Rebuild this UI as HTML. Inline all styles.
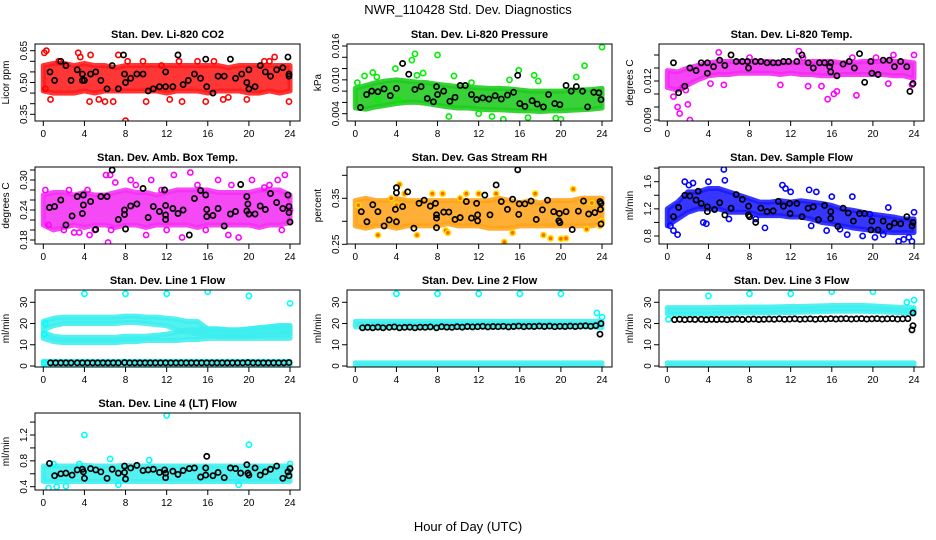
<!DOCTYPE html>
<html><head><meta charset="utf-8"><title>NWR_110428 Std. Dev. Diagnostics</title>
<style>
html,body{margin:0;padding:0;background:#fff;}
svg{display:block;font-family:"Liberation Sans",Arial,sans-serif;}
</style></head>
<body>
<svg id="chart" width="936" height="540" viewBox="0 0 936 540" xmlns="http://www.w3.org/2000/svg">
<rect x="0" y="0" width="936" height="540" fill="#fff"/>
<text x="468" y="14" font-size="13" text-anchor="middle">NWR_110428  Std. Dev. Diagnostics</text>
<text x="468" y="531" font-size="13" text-anchor="middle">Hour of Day (UTC)</text>
</svg>
<script>
const bandHours=[0,1,2,3,4,5,6,7,8,9,10,11,12,13,14,15,16,17,18,19,20,21,22,23,24];
const xTicks=[0,4,8,12,16,20,24];

// Panel 1: CO2
const p1Lo=[0.46,0.45,0.45,0.45,0.46,0.45,0.46,0.46,0.46,0.46,0.46,0.46,0.45,0.46,0.46,0.46,0.45,0.46,0.46,0.46,0.45,0.45,0.46,0.45,0.46];
const p1Hi=[0.58,0.59,0.59,0.58,0.59,0.58,0.58,0.57,0.58,0.58,0.58,0.58,0.58,0.58,0.58,0.58,0.58,0.58,0.57,0.58,0.58,0.58,0.58,0.58,0.58];
const p1Out=[[0.1,0.64],[0.3,0.65],[0.2,0.47],[0.7,0.42],[1.5,0.6],[3.4,0.64],[3.6,0.62],[4.5,0.41],[4.6,0.63],[6.0,0.41],[6.8,0.41],[7.3,0.63],[8.0,0.32],[8.2,0.60],[9.7,0.60],[10.0,0.41],[11.5,0.58],[13.2,0.60],[13.5,0.41],[15.0,0.60],[15.8,0.41],[16.6,0.60],[17.5,0.42],[18.0,0.43],[19.8,0.42],[21.5,0.60],[22.5,0.62],[22.0,0.60],[23.9,0.41],[2.2,0.58],[5.4,0.42],[12.3,0.42]];
const p1Black=[[0.65,0.55],[1.1,0.51],[1.7,0.60],[2.2,0.58],[2.7,0.51],[3.3,0.56],[3.8,0.54],[3.8,0.51],[4.0,0.51],[4.6,0.54],[5.1,0.55],[5.6,0.51],[6.2,0.47],[6.7,0.58],[7.3,0.47],[7.8,0.63],[7.9,0.54],[8.0,0.50],[8.5,0.52],[9.1,0.54],[9.7,0.54],[10.2,0.46],[10.7,0.47],[11.3,0.48],[11.9,0.48],[11.9,0.55],[12.6,0.48],[13.1,0.63],[13.6,0.49],[14.1,0.51],[14.7,0.54],[15.3,0.52],[15.8,0.61],[15.9,0.48],[16.5,0.45],[17.0,0.53],[17.6,0.53],[18.2,0.61],[18.7,0.52],[19.3,0.54],[19.8,0.50],[20.0,0.47],[20.0,0.56],[20.6,0.48],[21.1,0.58],[21.6,0.55],[22.1,0.53],[22.7,0.56],[23.3,0.57],[23.8,0.62],[23.9,0.54],[23.9,0.53]];
const p1YTicks=[0.35,0.40,0.45,0.50,0.55,0.60,0.65];
const p1YLabels=["0.35","","","0.50","","","0.65"];

// Panel 2: Pressure
const p2Lo=[0.0050,0.0048,0.0052,0.0055,0.0058,0.0060,0.0060,0.0058,0.0055,0.0052,0.0050,0.0050,0.0048,0.0047,0.0047,0.0046,0.0045,0.0045,0.0044,0.0045,0.0045,0.0046,0.0047,0.0048,0.0050];
const p2Hi=[0.0085,0.0090,0.0095,0.0098,0.0100,0.0098,0.0096,0.0095,0.0092,0.0090,0.0088,0.0087,0.0086,0.0085,0.0085,0.0084,0.0082,0.0080,0.0080,0.0080,0.0080,0.0082,0.0082,0.0083,0.0085];
const p2Out=[[0.2,0.0095],[0.9,0.0107],[1.7,0.0113],[2.1,0.0105],[3.9,0.0120],[4.2,0.0064],[5.5,0.0135],[5.8,0.0146],[6.0,0.0108],[6.6,0.0112],[8.0,0.0144],[9.1,0.0035],[9.6,0.0107],[11.3,0.0095],[13.3,0.0035],[14.4,0.0030],[15.0,0.0100],[15.9,0.0117],[16.8,0.0033],[17.4,0.0108],[17.8,0.0098],[19.5,0.0032],[20.0,0.0030],[21.5,0.0105],[22.3,0.0125],[24.0,0.0158],[2.2,0.0065],[12.0,0.0040]];
const p2Black=[[0.5,0.0051],[1.1,0.0074],[1.6,0.0080],[2.2,0.0079],[2.8,0.0084],[3.4,0.0072],[4.0,0.0085],[4.6,0.0129],[5.2,0.0110],[5.8,0.0083],[6.4,0.0088],[7.0,0.0067],[7.6,0.0061],[7.9,0.0088],[8.0,0.0074],[8.6,0.0080],[9.2,0.0062],[9.7,0.0069],[10.2,0.0090],[10.7,0.0090],[11.3,0.0074],[11.8,0.0065],[12.4,0.0068],[13.0,0.0066],[13.6,0.0072],[14.2,0.0066],[14.8,0.0073],[15.4,0.0078],[15.8,0.0108],[16.0,0.0058],[16.5,0.0053],[17.2,0.0063],[17.7,0.0057],[18.3,0.0052],[18.8,0.0074],[19.4,0.0058],[19.9,0.0056],[20.5,0.0090],[21.0,0.0080],[21.5,0.0088],[22.1,0.0080],[22.6,0.0052],[23.2,0.0078],[23.7,0.0077],[23.9,0.0065]];
const p2YTicks=[0.004,0.006,0.008,0.010,0.012,0.014,0.016];
const p2YLabels=["0.004","","","0.010","","","0.016"];

// Panel 3: Li-820 Temp
const p3Lo=[0.0115,0.0113,0.0117,0.0121,0.0124,0.0125,0.0125,0.0126,0.0126,0.0126,0.0126,0.0125,0.0126,0.0125,0.0125,0.0124,0.0124,0.0125,0.0125,0.0125,0.0125,0.0125,0.0124,0.0124,0.0122];
const p3Hi=[0.0128,0.0127,0.0130,0.0132,0.0134,0.0135,0.0135,0.0135,0.0135,0.0135,0.0135,0.0134,0.0134,0.0134,0.0135,0.0135,0.0135,0.0134,0.0134,0.0135,0.0135,0.0135,0.0135,0.0135,0.0134];
const p3Out=[[0.6,0.0108],[1.0,0.0100],[1.2,0.0095],[2.0,0.0102],[2.2,0.0090],[1.5,0.0115],[5.0,0.0142],[4.2,0.0118],[5.5,0.0117],[8.0,0.0138],[12.8,0.0143],[13.2,0.0138],[11.0,0.0117],[13.7,0.0116],[15.0,0.0116],[15.6,0.0106],[16.2,0.0110],[16.5,0.0112],[18.0,0.0138],[18.4,0.0109],[20.3,0.0138],[21.5,0.0118],[22.0,0.0140],[23.8,0.0117],[24.0,0.0140],[1.8,0.0113]];
const p3Black=[[0.6,0.0134],[1.1,0.0111],[1.7,0.0116],[2.2,0.0130],[2.8,0.0128],[3.3,0.0134],[3.9,0.0134],[3.9,0.0126],[4.5,0.0131],[5.1,0.0136],[5.6,0.0132],[6.2,0.0140],[6.7,0.0135],[7.3,0.0135],[7.8,0.0135],[7.9,0.0130],[8.56,0.0135],[9.1,0.0135],[9.7,0.0134],[10.3,0.0134],[10.8,0.0134],[11.3,0.0135],[11.8,0.0135],[12.6,0.0135],[13.1,0.0140],[13.7,0.0134],[14.2,0.0130],[14.8,0.0134],[15.3,0.0134],[15.8,0.0131],[15.9,0.0134],[15.9,0.0127],[16.5,0.0124],[17.1,0.0133],[17.7,0.0135],[18.2,0.0130],[18.7,0.0141],[19.2,0.0119],[19.8,0.0135],[19.9,0.0126],[20.5,0.0125],[21.0,0.0136],[21.6,0.0136],[22.1,0.0131],[22.7,0.0135],[23.3,0.0131],[23.6,0.0112],[23.9,0.0118]];
const p3YTicks=[0.009,0.010,0.011,0.012,0.013,0.014];
const p3YLabels=["0.009","","","0.012","",""];

// Panel 4: Amb Box Temp
const p4Lo=[0.21,0.20,0.205,0.21,0.205,0.21,0.21,0.205,0.21,0.21,0.205,0.21,0.21,0.21,0.21,0.205,0.21,0.21,0.21,0.21,0.21,0.205,0.21,0.21,0.215];
const p4Hi=[0.27,0.275,0.275,0.27,0.275,0.27,0.27,0.275,0.28,0.275,0.275,0.27,0.275,0.28,0.28,0.28,0.28,0.275,0.275,0.275,0.275,0.28,0.28,0.28,0.27];
const p4Out=[[0.2,0.28],[2.0,0.20],[3.0,0.195],[3.5,0.195],[4.5,0.19],[5.0,0.20],[6.1,0.31],[6.5,0.31],[7.0,0.295],[6.3,0.175],[6.6,0.20],[8.5,0.30],[9.0,0.29],[10.0,0.19],[10.5,0.30],[11.5,0.28],[12.0,0.20],[12.7,0.31],[13.5,0.185],[14.3,0.315],[15.0,0.29],[15.8,0.20],[17.0,0.30],[18.0,0.19],[18.3,0.29],[19.0,0.185],[20.3,0.30],[21.5,0.285],[22.0,0.29],[22.8,0.30],[23.5,0.31],[23.2,0.20],[24.0,0.24],[2.5,0.28],[4.3,0.28],[0.5,0.21]];
const p4Black=[[0.6,0.245],[1.1,0.247],[1.7,0.26],[2.2,0.21],[2.8,0.228],[3.3,0.267],[3.9,0.27],[3.9,0.25],[3.8,0.233],[4.6,0.257],[5.1,0.201],[5.6,0.267],[6.2,0.267],[6.7,0.32],[7.3,0.221],[7.9,0.24],[7.9,0.231],[8.0,0.202],[8.5,0.248],[9.1,0.252],[9.7,0.283],[10.2,0.225],[10.7,0.247],[11.3,0.237],[11.8,0.28],[11.9,0.249],[11.9,0.23],[11.9,0.221],[12.6,0.243],[13.1,0.233],[13.6,0.24],[14.2,0.19],[14.7,0.263],[15.3,0.279],[15.8,0.27],[15.9,0.241],[15.9,0.227],[16.5,0.229],[17.0,0.243],[17.6,0.208],[18.2,0.232],[18.7,0.237],[19.2,0.291],[19.8,0.267],[19.9,0.252],[19.8,0.238],[20.0,0.232],[20.6,0.232],[21.1,0.248],[21.6,0.241],[22.1,0.273],[22.7,0.255],[23.3,0.243],[23.8,0.27],[23.9,0.247],[23.9,0.235],[24.0,0.216]];
const p4YTicks=[0.18,0.20,0.22,0.24,0.26,0.28,0.30,0.32];
const p4YLabels=["0.18","","","0.24","","","0.30",""];

// Panel 5: Gas Stream RH
const p5Lo=[0.29,0.285,0.29,0.29,0.285,0.29,0.29,0.29,0.29,0.295,0.29,0.29,0.29,0.285,0.285,0.285,0.29,0.29,0.29,0.29,0.29,0.29,0.29,0.29,0.295];
const p5Hi=[0.345,0.35,0.345,0.345,0.35,0.345,0.345,0.345,0.345,0.345,0.345,0.345,0.345,0.345,0.35,0.345,0.34,0.345,0.34,0.345,0.345,0.345,0.35,0.35,0.35];
const p5Out=[[0.3,0.335],[2.2,0.27],[4.0,0.335],[4.3,0.38],[4.8,0.36],[7.5,0.36],[8.5,0.36],[8.8,0.28],[9.0,0.275],[10.2,0.35],[10.8,0.36],[12.0,0.36],[13.7,0.36],[14.5,0.255],[15.3,0.275],[17.5,0.36],[18.3,0.27],[19.0,0.263],[20.0,0.262],[20.5,0.263],[21.2,0.37],[22.5,0.283],[23.0,0.34],[23.8,0.29],[24.0,0.3],[6.0,0.27],[3.5,0.35]];
const p5Black=[[0.58,0.321],[1.13,0.299],[1.7,0.336],[2.2,0.321],[2.8,0.29],[3.3,0.303],[3.9,0.326],[4.0,0.373],[4.0,0.362],[4.0,0.299],[4.6,0.332],[5.1,0.364],[5.7,0.285],[6.2,0.339],[6.7,0.346],[7.3,0.333],[7.8,0.339],[7.9,0.314],[7.9,0.307],[7.9,0.286],[8.6,0.32],[9.1,0.32],[9.7,0.304],[10.2,0.308],[10.8,0.343],[11.3,0.307],[11.8,0.339],[11.9,0.314],[11.9,0.301],[12.6,0.357],[13.1,0.314],[13.7,0.379],[14.2,0.343],[14.8,0.326],[15.3,0.348],[15.8,0.412],[15.9,0.315],[15.95,0.338],[16.5,0.338],[17.1,0.344],[17.6,0.304],[18.2,0.325],[18.7,0.346],[19.3,0.321],[19.8,0.301],[19.85,0.317],[19.9,0.297],[20.5,0.321],[21.1,0.282],[21.7,0.322],[22.2,0.344],[22.7,0.316],[23.3,0.319],[23.8,0.343],[23.85,0.326],[23.9,0.339],[23.9,0.294]];
const p5YTicks=[0.25,0.30,0.35,0.40];
const p5YLabels=["0.25","","0.35",""];

// Panel 6: Sample Flow
const p6Lo=[0.95,1.05,1.15,1.2,1.2,1.2,1.15,1.15,1.15,1.1,1.1,1.1,1.08,1.08,1.05,1.0,0.98,0.95,0.92,0.9,0.88,0.86,0.85,0.85,0.85];
const p6Hi=[1.2,1.3,1.45,1.45,1.5,1.5,1.45,1.4,1.35,1.3,1.3,1.32,1.3,1.32,1.3,1.28,1.25,1.2,1.18,1.15,1.12,1.1,1.08,1.05,1.05];
const p6Out=[[0.3,0.95],[0.6,0.88],[1.0,0.82],[1.7,1.6],[2.1,1.55],[2.5,1.58],[3.5,1.0],[3.8,0.98],[4.0,1.6],[5.5,1.78],[5.6,1.62],[6.0,1.05],[8.6,1.05],[9.5,0.92],[11.2,1.55],[11.5,1.5],[12.0,1.45],[13.8,1.48],[14.0,0.95],[14.5,1.45],[15.5,0.88],[16.0,1.38],[16.8,0.9],[17.5,0.82],[18.0,1.38],[19.0,0.8],[19.7,1.12],[20.2,0.78],[21.0,0.82],[21.5,1.22],[22.5,0.72],[23.0,0.75],[23.5,0.78],[24.0,1.15],[23.8,0.72]];
const p6Black=[[0.6,1.085],[1.1,1.22],[1.7,1.40],[2.2,1.39],[2.8,1.33],[3.0,1.46],[3.3,1.28],[3.9,1.23],[3.9,1.16],[4.6,1.19],[5.1,1.29],[5.6,1.11],[6.2,1.21],[6.7,1.41],[7.3,1.34],[7.9,1.24],[7.9,1.11],[8.0,1.085],[8.6,1.0],[9.1,1.21],[9.7,1.16],[10.3,1.17],[10.8,1.31],[11.3,1.24],[11.9,1.28],[11.95,1.13],[12.6,1.28],[13.1,1.085],[13.7,1.21],[14.2,1.23],[14.7,1.04],[15.3,1.25],[15.9,1.16],[15.9,1.06],[16.6,0.94],[17.1,1.21],[17.6,1.14],[18.1,1.02],[18.7,1.13],[19.2,1.13],[19.8,0.89],[19.9,1.02],[20.5,0.89],[21.0,1.02],[21.6,0.94],[22.1,0.99],[22.7,0.98],[23.3,1.085],[23.8,0.95],[23.9,1.0]];
const p6YTicks=[0.8,1.0,1.2,1.4,1.6,1.8];
const p6YLabels=["0.8","","1.2","","1.6",""];

// Panel 7: Line 1 Flow
const p7UpLo=[17,19,20,20,20,20,20,20,20.5,20.5,20,19.5,19,17,16,15,14.5,14,14,14,14,14.5,15,15,15];
const p7UpHi=[21,22.5,23,23,23,23,23,23,23.5,23.5,23,23,22.5,22,21,21,17.5,17.5,17,17,17.5,18,18.5,19,19];
const p7LowLo=[13,11.5,11,11,11,11,11,11,11.5,11.5,12,12,12,12,12.5,12.5,13,13,13,13,13,13,13,13,13];
const p7LowHi=[16,14,13.5,13.5,13.5,13.5,13.5,13.5,14,14,14,14.5,15,16,17,17,17.5,17.5,17,17,17.5,18,18.5,19,19];
const p7BotLo=[0.5,0.5,0.5,0.5,0.5,0.5,0.5,0.5,0.5,0.5,0.5,0.5,0.5,0.5,0.5,0.5,0.5,0.5,0.5,0.5,0.5,0.5,0.5,0.5,0.5];
const p7BotHi=[2.2,2.2,2.2,2.2,2.2,2.2,2.2,2.2,2.2,2.2,2.2,2.2,2.2,2.2,2.2,2.2,2.2,2.2,2.2,2.2,2.2,2.2,2.2,2.2,2.2];
const p7Out=[[0.1,1.5],[4,34],[8,34],[12,34],[16,35],[20,33],[24,29.5],[0.2,20],[0.1,15]];
const p7Black=[[0.7,1.5],[1.2,1.5],[1.7,1.5],[2.2,1.5],[2.7,1.5],[3.3,1.5],[3.8,1.5],[4.3,1.5],[4.8,1.5],[5.3,1.5],[5.8,1.5],[6.3,1.5],[6.8,1.5],[7.3,1.5],[7.9,1.6],[8.4,1.5],[8.9,1.5],[9.4,1.5],[9.9,1.5],[10.4,1.5],[10.9,1.5],[11.4,1.5],[11.9,1.5],[12.4,1.5],[12.9,1.5],[13.4,1.5],[13.9,1.5],[14.4,1.5],[14.9,1.5],[15.4,1.5],[15.9,1.5],[16.4,1.5],[16.9,1.5],[17.4,1.5],[17.9,1.5],[18.4,1.5],[18.9,1.5],[19.4,1.5],[19.9,1.6],[20.4,1.5],[20.9,1.5],[21.4,1.5],[21.9,1.5],[22.4,1.5],[22.9,1.5],[23.4,1.5],[23.9,1.6]];
const flowYTicks=[0,10,20,30];
const flowYLabels=["0","10","20","30"];

// Panel 8: Line 2 Flow
const p8Lo=[18.5,18.5,18.5,18.5,18.5,18.5,18.5,18.5,18.5,18.5,18.5,18.5,18.5,18.5,18.5,18.5,18.5,18.5,18.5,18.5,18.5,18.5,18.5,18.5,18];
const p8Hi=[21,21,21,21,21,21,21,21,21,21,21,21,21,21,21,21,21,21,21,21,21,21,21,21,21];
const p8BotLo=[0.3,0.3,0.3,0.3,0.3,0.3,0.3,0.3,0.3,0.3,0.3,0.3,0.3,0.3,0.3,0.3,0.3,0.3,0.3,0.3,0.3,0.3,0.3,0.3,0.3];
const p8BotHi=[1.5,1.5,1.5,1.5,1.5,1.5,1.5,1.5,1.5,1.5,1.5,1.5,1.5,1.5,1.5,1.5,1.5,1.5,1.5,1.5,1.5,1.5,1.5,1.5,1.5];
const p8Out=[[4,34],[8,34],[12,34],[16,34],[20,34],[23.5,25],[24,23]];
const p8Black=[[0.7,18],[1.2,18.2],[1.7,18],[2.2,18.3],[2.7,18],[3.3,18.2],[3.8,18.4],[4.3,18],[4.8,18.2],[5.3,18.3],[5.8,18],[6.3,18.3],[6.8,18.2],[7.3,18.4],[7.9,18],[8.4,18.5],[8.9,18.3],[9.4,18.2],[9.9,18.5],[10.4,18.3],[10.9,18.6],[11.4,18.4],[11.9,18.5],[12.4,18.7],[12.9,18.4],[13.4,18.6],[13.9,18.5],[14.4,18.7],[14.9,18.4],[15.4,18.6],[15.9,18.8],[16.4,18.5],[16.9,18.7],[17.4,18.6],[17.9,18.8],[18.4,18.6],[18.9,18.8],[19.4,18.5],[19.9,18.7],[20.4,18.6],[20.9,18.8],[21.4,18.6],[21.9,18.8],[22.4,18.9],[22.9,18.7],[23.4,19],[23.8,15],[23.9,20]];

// Panel 9: Line 3 Flow
const p9Lo=[24.5,24.5,24.5,24.5,24.5,24.8,24.8,25,25,25,25,25.2,25.2,25.4,25.5,25.6,25.8,25.8,25.8,25.8,25.6,25.5,25.3,25,24.5];
const p9Hi=[27.5,27.5,27.5,27.5,27.5,27.6,27.6,27.7,27.8,27.8,27.8,27.9,28,28,28.2,28.3,28.5,28.5,28.5,28.5,28.3,28,27.8,27.5,27.5];
const p9BotLo=[0.3,0.3,0.3,0.3,0.3,0.3,0.3,0.3,0.3,0.3,0.3,0.3,0.3,0.3,0.3,0.3,0.3,0.3,0.3,0.3,0.3,0.3,0.3,0.3,0.3];
const p9BotHi=[1.5,1.5,1.5,1.5,1.5,1.5,1.5,1.5,1.5,1.5,1.5,1.5,1.5,1.5,1.5,1.5,1.5,1.5,1.5,1.5,1.5,1.5,1.5,1.5,1.5];
const p9Out=[[4,33],[8,34],[12,34],[16,35],[20,35],[23.3,30],[24,31],[23.9,26],[0.1,22]];
const p9Black=[[0.7,21.8],[1.2,22],[1.7,21.8],[2.2,22],[2.7,21.9],[3.3,22],[3.8,21.8],[4.3,22],[4.8,21.9],[5.3,22],[5.8,21.8],[6.3,22],[6.8,22.1],[7.3,21.9],[7.9,22],[8.4,22.1],[8.9,21.9],[9.4,22],[9.9,22.1],[10.4,22],[10.9,22.2],[11.4,22],[11.9,22.1],[12.4,22.2],[12.9,22],[13.4,22.1],[13.9,22.2],[14.4,22],[14.9,22.2],[15.4,22.1],[15.9,22.3],[16.4,22.1],[16.9,22.2],[17.4,22.3],[17.9,22.1],[18.4,22.2],[18.9,22.3],[19.4,22.1],[19.9,22.2],[20.4,22.3],[20.9,22.1],[21.4,22.2],[21.9,22.3],[22.4,22.1],[22.9,22.2],[23.4,22.3],[23.8,17],[23.9,19],[23.9,25]];

// Panel 10: Line 4 (LT) Flow
const p10Lo=[0.48,0.48,0.48,0.48,0.48,0.48,0.48,0.48,0.48,0.48,0.48,0.48,0.48,0.48,0.48,0.48,0.48,0.48,0.48,0.48,0.48,0.48,0.48,0.48,0.48];
const p10Hi=[0.72,0.72,0.72,0.72,0.73,0.72,0.72,0.72,0.73,0.72,0.72,0.72,0.72,0.72,0.72,0.72,0.72,0.72,0.72,0.72,0.72,0.72,0.72,0.72,0.72];
const p10Out=[[0.5,0.38],[1.3,0.40],[2.2,0.41],[4,1.2],[6.5,0.83],[10.3,0.81],[12,1.5],[20,1.05],[24,0.75],[19.0,0.43],[7.3,0.43],[1.0,0.75],[3.5,0.75]];
const p10Black=[[0.6,0.76],[1.1,0.57],[1.7,0.60],[2.2,0.61],[2.8,0.58],[3.3,0.66],[3.8,0.67],[3.9,0.63],[4.0,0.53],[4.6,0.68],[5.1,0.66],[5.6,0.63],[6.2,0.53],[6.7,0.67],[7.3,0.61],[7.9,0.72],[7.9,0.62],[8.0,0.52],[8.5,0.69],[9.1,0.73],[9.7,0.65],[10.2,0.66],[10.7,0.67],[11.3,0.62],[11.8,0.66],[11.9,0.61],[11.9,0.54],[12.6,0.64],[13.1,0.59],[13.6,0.65],[14.2,0.68],[14.7,0.69],[15.3,0.55],[15.8,0.69],[15.9,0.87],[15.8,0.58],[16.5,0.57],[17.0,0.62],[17.6,0.54],[18.2,0.69],[18.7,0.68],[19.2,0.61],[19.8,0.74],[19.9,0.61],[20.0,0.58],[20.6,0.69],[21.1,0.58],[21.6,0.63],[22.1,0.67],[22.7,0.72],[23.3,0.53],[23.8,0.63],[23.9,0.57],[24.0,0.68]];
const p10YTicks=[0.4,0.6,0.8,1.0,1.2,1.4];
const p10YLabels=["0.4","","0.8","","1.2",""];

const NS="http://www.w3.org/2000/svg";
const svg=document.getElementById('chart');
const BW=265,BH=77;
function mk(tag,attrs,parent){const e=document.createElementNS(NS,tag);for(const k in attrs)e.setAttribute(k,attrs[k]);(parent||svg).appendChild(e);return e;}

function panel(cfg){
  const g=mk('g',{});
  
  
  const L=35+312*cfg.col,T=44+123*cfg.row,B=T+BH;
  const xs=h=>L+8.3+h*10.28;
  const ys=v=>cfg.py1+(v-cfg.v1)*(cfg.py2-cfg.py1)/(cfg.v2-cfg.v1)+T;
  const clip='clip'+cfg.name;
  const cp=mk('clipPath',{id:clip},g);mk('rect',{x:L,y:T,width:BW,height:BH},cp);
  const pg=mk('g',{'clip-path':'url(#'+clip+')'},g);
  (cfg.bands||[]).forEach((bd,i)=>{
    let pts=[];
    bandHours.forEach((h,k)=>pts.push(xs(h)+','+ys(bd.hi[k])));
    for(let k=bandHours.length-1;k>=0;k--)pts.push(xs(bandHours[k])+','+ys(bd.lo[k]));
    const p=mk('polygon',{points:pts.join(' '),fill:bd.fill,'fill-opacity':0.88,stroke:bd.fill,'stroke-opacity':0.88,'stroke-width':5,'stroke-linejoin':'round'},pg);
    
    
  });
  cfg.out.forEach(d=>{
    const c=mk('circle',{cx:xs(d[0]),cy:ys(d[1]),r:2.6,fill:cfg.outFill||'none',stroke:cfg.color,'stroke-width':1.6},pg);
    
    
  });
  cfg.black.forEach(d=>{
    const c=mk('circle',{cx:xs(d[0]),cy:ys(d[1]),r:2.6,fill:'none',stroke:'#000','stroke-width':1.7},pg);
    
    
  });
  mk('rect',{x:L,y:T,width:BW,height:BH,fill:'none',stroke:'#000','stroke-width':1},g);
  mk('line',{x1:xs(0),x2:xs(24),y1:B,y2:B,stroke:'#000'},g);
  xTicks.forEach(t=>{
    mk('line',{x1:xs(t),x2:xs(t),y1:B,y2:B+5,stroke:'#000'},g);
    const tx=mk('text',{x:xs(t),y:B+16,'font-size':10,'text-anchor':'middle'},g);tx.textContent=t;
    
    
  });
  const yt=cfg.yt;
  mk('line',{x1:L,x2:L,y1:ys(yt[0]),y2:ys(yt[yt.length-1]),stroke:'#000'},g);
  yt.forEach((t,i)=>{
    const y=ys(t);
    mk('line',{x1:L-5,x2:L,y1:y,y2:y,stroke:'#000'},g);
    if(cfg.yl[i]){
      const tx=mk('text',{x:L-8,y:y,'font-size':10,'text-anchor':'middle',transform:'rotate(-90 '+(L-8)+' '+y+')'},g);
      tx.textContent=cfg.yl[i];
      
      
    }
  });
  const yl=mk('text',{x:L-26,y:T+BH/2,'font-size':10,'text-anchor':'middle',transform:'rotate(-90 '+(L-26)+' '+(T+BH/2)+')'},g);
  yl.textContent=cfg.ylab;
  
  
  const tt=mk('text',{x:L+BW/2,y:T-6,'font-size':11,'font-weight':'bold','text-anchor':'middle'},g);
  tt.textContent=cfg.title;
  
  
}

panel({name:'co2-panel',col:0,row:0,title:'Stan. Dev. Li-820 CO2',ylab:'Licor ppm',v1:0.65,py1:6.7,v2:0.35,py2:70.3,yt:p1YTicks,yl:p1YLabels,color:'#ff0000',bands:[{lo:p1Lo,hi:p1Hi,fill:'#ff1a1a'}],out:p1Out,black:p1Black});
panel({name:'pressure-panel',col:1,row:0,title:'Stan. Dev. Li-820 Pressure',ylab:'kPa',v1:0.016,py1:2,v2:0.004,py2:69.7,yt:p2YTicks,yl:p2YLabels,color:'#00ee00',bands:[{lo:p2Lo,hi:p2Hi,fill:'#1ccc1c'}],out:p2Out,black:p2Black});
panel({name:'li820-temp-panel',col:2,row:0,title:'Stan. Dev. Li-820 Temp.',ylab:'degrees C',v1:0.012,py1:37,v2:0.009,py2:76,yt:p3YTicks,yl:p3YLabels,color:'#ff00ff',bands:[{lo:p3Lo,hi:p3Hi,fill:'#f22af2'}],out:p3Out,black:p3Black});
panel({name:'amb-box-temp-panel',col:0,row:1,title:'Stan. Dev. Amb. Box Temp.',ylab:'degrees C',v1:0.30,py1:13,v2:0.18,py2:73,yt:p4YTicks,yl:p4YLabels,color:'#ff00ff',bands:[{lo:p4Lo,hi:p4Hi,fill:'#f530f5'}],out:p4Out,black:p4Black});
panel({name:'gas-stream-rh-panel',col:1,row:1,title:'Stan. Dev. Gas Stream RH',ylab:'percent',v1:0.35,py1:31.3,v2:0.25,py2:77.3,yt:p5YTicks,yl:p5YLabels,color:'#ffdd00',outFill:'#ff6600',bands:[{lo:p5Lo,hi:p5Hi,fill:'#ffa41a'}],out:p5Out,black:p5Black});
panel({name:'sample-flow-panel',col:2,row:1,title:'Stan. Dev. Sample Flow',ylab:'ml/min',v1:1.6,py1:14.7,v2:0.8,py2:69,yt:p6YTicks,yl:p6YLabels,color:'#0000ff',bands:[{lo:p6Lo,hi:p6Hi,fill:'#1a1aff'}],out:p6Out,black:p6Black});
panel({name:'line1-flow-panel',col:0,row:2,title:'Stan. Dev. Line 1 Flow',ylab:'ml/min',v1:30,py1:12.3,v2:0,py2:76,yt:flowYTicks,yl:flowYLabels,color:'#00ffff',bands:[{lo:p7UpLo,hi:p7UpHi,fill:'#3deeee'},{lo:p7LowLo,hi:p7LowHi,fill:'#3deeee'},{lo:p7BotLo,hi:p7BotHi,fill:'#3deeee'}],out:p7Out,black:p7Black});
panel({name:'line2-flow-panel',col:1,row:2,title:'Stan. Dev. Line 2 Flow',ylab:'ml/min',v1:30,py1:12.3,v2:0,py2:76,yt:flowYTicks,yl:flowYLabels,color:'#00ffff',bands:[{lo:p8Lo,hi:p8Hi,fill:'#3deeee'},{lo:p8BotLo,hi:p8BotHi,fill:'#3deeee'}],out:p8Out,black:p8Black});
panel({name:'line3-flow-panel',col:2,row:2,title:'Stan. Dev. Line 3 Flow',ylab:'ml/min',v1:30,py1:12.3,v2:0,py2:76,yt:flowYTicks,yl:flowYLabels,color:'#00ffff',bands:[{lo:p9Lo,hi:p9Hi,fill:'#3deeee'},{lo:p9BotLo,hi:p9BotHi,fill:'#3deeee'}],out:p9Out,black:p9Black});
panel({name:'line4-flow-panel',col:0,row:3,title:'Stan. Dev. Line 4 (LT) Flow',ylab:'ml/min',v1:1.2,py1:22,v2:0.4,py2:73.7,yt:p10YTicks,yl:p10YLabels,color:'#00ffff',bands:[{lo:p10Lo,hi:p10Hi,fill:'#3deeee'}],out:p10Out,black:p10Black});
</script>
</body></html>
